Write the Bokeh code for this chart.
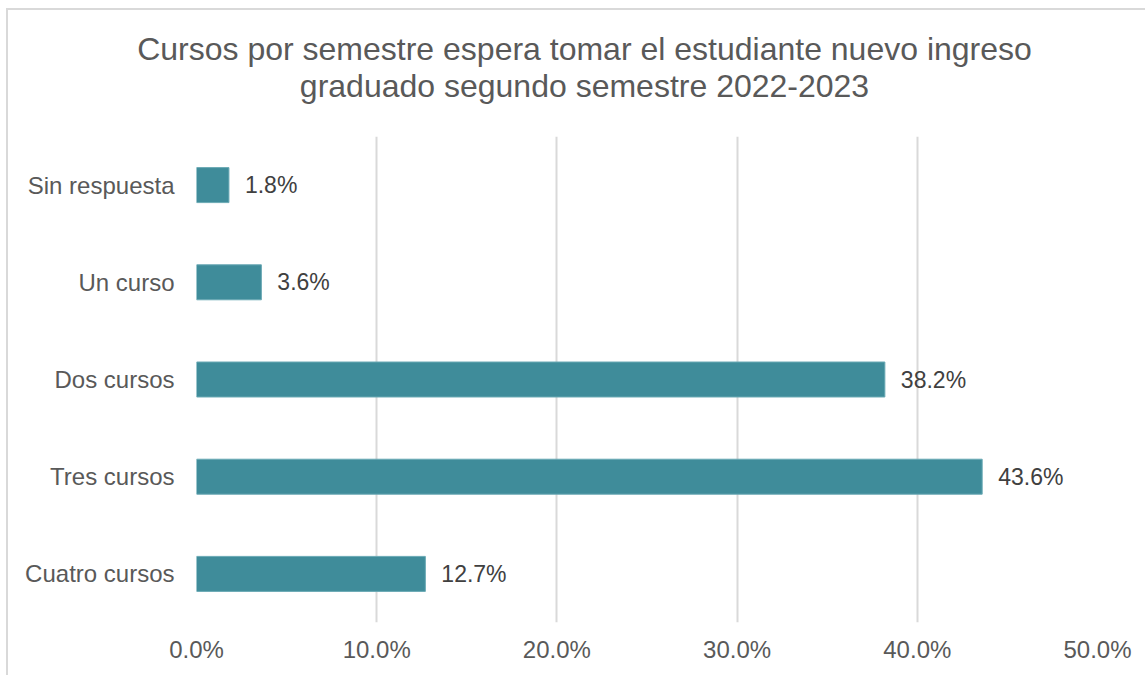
from bokeh.plotting import figure
from bokeh.models import FixedTicker, PrintfTickFormatter, ColumnDataSource, FactorRange, Range1d, Label
from bokeh.core.properties import value
from bokeh.embed import file_html
from bokeh.resources import INLINE

title_lines = ["Cursos por semestre espera tomar el estudiante nuevo ingreso",
               "graduado segundo semestre 2022-2023"]
categories = ["Sin respuesta", "Un curso", "Dos cursos", "Tres cursos", "Cuatro cursos"]
values = [1.8, 3.6, 38.2, 43.6, 12.7]
x_ticks = [0, 10, 20, 30, 40, 50]

FONT = "Liberation Sans"
labels = ["%.1f%%" % v for v in values]
src = ColumnDataSource(dict(cat=categories, val=values, lab=labels))

p = figure(width=1139, height=667, output_backend="svg", toolbar_location=None,
           y_range=FactorRange(*list(reversed(categories)), range_padding=0),
           x_range=Range1d(0, 50),
           min_border_left=188, min_border_right=50, min_border_top=126, min_border_bottom=55)
p.styles = {"margin-left": "6px", "margin-top": "8px",
            "border-left": "2px solid #d9d9d9", "border-top": "2px solid #d9d9d9"}

# centred two-line chart title placed in the top border panel
title_x = 574
title_baselines = [36, 73]
for txt, yb in zip(title_lines, title_baselines):
    p.add_layout(Label(x=title_x, y=yb, x_units="canvas", y_units="canvas", text=txt,
                       text_align="center", text_baseline="alphabetic",
                       text_font=FONT, text_font_size="32px", text_color="#595959"), "above")

p.outline_line_color = None
p.background_fill_color = "white"
p.border_fill_color = "white"

p.xgrid.ticker = FixedTicker(ticks=x_ticks)
p.xgrid.grid_line_color = "#d9d9d9"
p.xgrid.grid_line_width = 2
p.ygrid.grid_line_color = None

p.hbar(y="cat", right="val", left=0, height=0.36, source=src,
       fill_color="#3f8c9a", line_color="#6aa9b4", line_width=1)

p.text(x="val", y="cat", text="lab", source=src, x_offset=16,
       text_align="left", text_baseline="middle",
       text_font=value(FONT), text_font_size="23px", text_color="#404040")

p.xaxis.ticker = FixedTicker(ticks=x_ticks)
p.xaxis.formatter = PrintfTickFormatter(format="%.1f%%")
p.xaxis.axis_line_color = None
p.xaxis.major_tick_line_color = None
p.xaxis.minor_tick_line_color = None
p.xaxis.major_label_standoff = 7
p.xaxis.major_label_text_font = FONT
p.xaxis.major_label_text_font_size = "24px"
p.xaxis.major_label_text_color = "#595959"

p.yaxis.axis_line_color = None
p.yaxis.major_tick_line_color = None
p.yaxis.minor_tick_line_color = None
p.yaxis.major_label_standoff = 16
p.yaxis.major_label_text_font = FONT
p.yaxis.major_label_text_font_size = "24px"
p.yaxis.major_label_text_color = "#595959"

open("out.html", "w").write(file_html(p, INLINE))
